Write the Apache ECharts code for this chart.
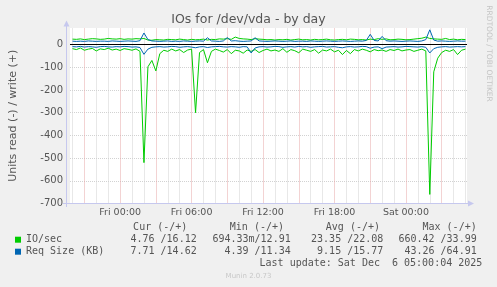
<!DOCTYPE html>
<html><head><meta charset="utf-8">
<script src="https://cdn.jsdelivr.net/npm/echarts@6/dist/echarts.min.js"></script>
<style>html,body{margin:0;padding:0;background:#f0f0f0}#c{width:497px;height:287px}</style>
</head><body><div id="c"></div>
<script>
// sample times: hours after Fri 00:00, one sample every 20 minutes
const startHour = -4;
const stepHour = 1 / 3;

// IO/sec (write = +, read = -)
const ioWrite = [24,23,25,22,24,26,25,23,24,27, 25,24,26,23,25,24,26,25,27,20,
  19,22,21,20,23,22,21,24,22,20, 23,21,22,24,20,23,22,25,24,26,
  23,33,27,25,24,22,26,24,23,21, 22,20,22,21,23,20,22,24,21,22,
  20,23,21,22,24,21,20,22,23,21, 24,23,21,22,20,24,22,26,23,25,
  21,22,24,23,21,22,24,26,28,33, 27,25,24,23,27,22,24,21,23,22];
const ioRead = [-18,-22,-15,-25,-20,-17,-28,-19,-22,-16, -24,-20,-26,-18,-21,-25,-19,-30,-520,-98,
  -70,-116,-40,-25,-30,-20,-28,-22,-35,-24, -20,-300,-35,-22,-80,-30,-20,-26,-33,-22,
  -40,-25,-28,-38,-24,-30,-22,-35,-26,-20, -28,-24,-30,-18,-34,-22,-27,-36,-20,-25,
  -30,-22,-38,-24,-28,-20,-32,-25,-44,-26, -40,-22,-28,-20,-25,-32,-22,-27,-24,-30,
  -22,-26,-20,-28,-24,-22,-30,-25,-20,-28, -660,-120,-60,-35,-25,-30,-22,-44,-25,-20];
// Req Size (KB)
const reqWrite = [15,14,15,14,16,15,14,15,15,14, 16,15,14,15,16,15,14,17,51,22,
  16,15,14,15,16,14,15,14,16,15, 14,15,16,15,30,16,15,14,16,31,
  16,17,15,14,15,16,30,16,15,14, 15,16,15,14,15,16,14,15,15,14,
  16,15,14,15,16,15,14,15,16,15, 14,15,16,15,18,45,18,16,36,17,
  15,16,15,14,15,16,15,14,16,22, 65,20,15,16,15,14,15,16,15,15];
const reqRead = [-9,-10,-8,-11,-9,-10,-12,-9,-8,-10, -11,-9,-10,-8,-9,-11,-10,-13,-43,-20,
  -12,-10,-9,-11,-10,-8,-9,-12,-10,-9, -11,-14,-10,-9,-13,-10,-9,-8,-10,-11,
  -9,-10,-12,-9,-10,-37,-15,-10,-9,-11, -10,-8,-9,-12,-10,-9,-11,-8,-10,-9,
  -12,-10,-9,-8,-11,-10,-9,-12,-14,-10, -9,-11,-10,-8,-9,-16,-11,-10,-18,-11,
  -10,-9,-11,-10,-8,-9,-10,-11,-9,-12, -37,-18,-12,-10,-9,-11,-10,-9,-10,-9];

const xTickHours = [0, 6, 12, 18, 24];
const xTickLabels = ['Fri 00:00', 'Fri 06:00', 'Fri 12:00', 'Fri 18:00', 'Sat 00:00'];
const legendNames = ['IO/sec', 'Req Size (KB)'];
const colHeaders = ['Cur (-/+)', 'Min (-/+)', 'Avg (-/+)', 'Max (-/+)'];
const ioStats = ['4.76 /16.12', '694.33m/12.91', '23.35 /22.08', '660.42 /33.99'];
const reqStats = ['7.71 /14.62', '4.39 /11.34', '9.15 /15.77', '43.26 /64.91'];
const lastUpdate = 'Last update: Sat Dec  6 05:00:04 2025';

const GREEN = '#00cc00', BLUE = '#0066b3';
const GRID_RED = '#e8a8a8', GRID_GREY = '#d2d2d2', AXIS = '#c6c8ee', TXT = '#555';
const hMin = -4.2083, hMax = 29.125;

const pairs = arr => arr.map((v, i) => [startHour + i * stepHour, v]);

const vLines = [];
for (let h = -4; h <= 29; h++) {
  vLines.push({ xAxis: h, lineStyle: { color: h % 3 === 0 ? GRID_RED : GRID_GREY, type: [1, 1], width: 1 } });
}

const chart = echarts.init(document.getElementById('c'), null, { renderer: 'canvas' });
const lineSeries = (name, data, color) => ({
  name, type: 'line', data: pairs(data), showSymbol: false, symbol: 'none',
  lineStyle: { color, width: 1 }, itemStyle: { color }, animation: false, silent: true, z: 3
});

const s0 = lineSeries('IO/sec', ioWrite, GREEN);
s0.markLine = { silent: true, symbol: ['none', 'none'], label: { show: false }, animation: false, z: 1, data: vLines };
const s3 = lineSeries('Req Size (KB)', reqRead, BLUE);
s3.markLine = { silent: true, symbol: ['none', 'none'], label: { show: false }, animation: false, z: 10,
  data: [{ yAxis: 0, lineStyle: { color: '#000', type: 'solid', width: 1.2 } }] };

const gTexts = [];
const hdrX = [187.3, 284, 380, 476.7];
const valX = [196.7, 290.7, 383.3, 476.7];
const mono = '10px "DejaVu Sans Mono"';
colHeaders.forEach((t, i) => gTexts.push({ type: 'text', x: hdrX[i], y: 227.3, style: { text: t, align: 'right', verticalAlign: 'middle', font: mono, fill: TXT } }));
ioStats.forEach((t, i) => gTexts.push({ type: 'text', x: valX[i], y: 239.7, style: { text: t, align: 'right', verticalAlign: 'middle', font: mono, fill: TXT } }));
reqStats.forEach((t, i) => gTexts.push({ type: 'text', x: valX[i], y: 251.7, style: { text: t, align: 'right', verticalAlign: 'middle', font: mono, fill: TXT } }));
gTexts.push({ type: 'text', x: 482.3, y: 263.3, style: { text: lastUpdate, align: 'right', verticalAlign: 'middle', font: mono, fill: TXT } });
gTexts.push({ type: 'text', x: 248.5, y: 276, style: { text: 'Munin 2.0.73', align: 'center', verticalAlign: 'middle', font: '7px "DejaVu Sans"', fill: '#c8c8c8' } });
gTexts.push({ type: 'text', x: 488.5, y: 53.5, rotation: -Math.PI / 2, style: { text: 'RRDTOOL / TOBI OETIKER', align: 'center', verticalAlign: 'middle', font: '7.5px "DejaVu Sans"', fill: '#c4c4c4' } });
// axis lines with arrows
gTexts.push({ type: 'line', z: 50, shape: { x1: 63, y1: 203.5, x2: 470, y2: 203.5 }, style: { stroke: AXIS, lineWidth: 1 } });
gTexts.push({ type: 'line', z: 50, shape: { x1: 66.5, y1: 207, x2: 66.5, y2: 24 }, style: { stroke: AXIS, lineWidth: 1 } });
gTexts.push({ type: 'polygon', z: 50, shape: { points: [[474, 203.5], [468, 200.5], [468, 206.5]] }, style: { fill: AXIS } });
gTexts.push({ type: 'polygon', z: 50, shape: { points: [[66.5, 20.5], [63.5, 26.5], [69.5, 26.5]] }, style: { fill: AXIS } });

chart.setOption({
  backgroundColor: '#f0f0f0',
  animation: false,
  title: { text: 'IOs for /dev/vda - by day', left: 'center', top: 13, padding: 0,
    textStyle: { fontFamily: 'DejaVu Sans', fontSize: 12.5, fontWeight: 'normal', color: TXT } },
  legend: { data: legendNames, orient: 'vertical', left: 15, top: 233.7, padding: 0, itemWidth: 6, itemHeight: 6, itemGap: 0,
    icon: 'rect', selectedMode: false,
    textStyle: { fontFamily: 'DejaVu Sans Mono', fontSize: 10, color: TXT, lineHeight: 12 } },
  grid: { left: 67, top: 28, width: 400, height: 175.5, show: true, backgroundColor: '#fff', borderWidth: 0 },
  xAxis: { type: 'value', min: hMin, max: hMax, axisLine: { show: false }, axisTick: { show: false }, splitLine: { show: false },
    axisLabel: { customValues: xTickHours, formatter: v => xTickLabels[xTickHours.indexOf(v)] || '',
      color: TXT, fontFamily: 'DejaVu Sans', fontSize: 9.5, margin: 4 } },
  yAxis: [
    { type: 'value', min: -700, max: 73, interval: 100, axisLine: { show: false }, axisTick: { show: false },
      axisLabel: { formatter: v => (v % 100 === 0 ? String(v) : ''), color: TXT, fontFamily: 'DejaVu Sans', fontSize: 10, margin: 7 },
      splitLine: { show: true, showMinLine: false, showMaxLine: false, lineStyle: { color: GRID_RED, type: [1, 1], width: 1 } },
      name: 'Units read (-) / write (+)', nameLocation: 'middle', nameRotate: 90, nameGap: 51,
      nameTextStyle: { fontFamily: 'DejaVu Sans', fontSize: 11, color: TXT } },
    { type: 'value', min: -700, max: 73, interval: 50, position: 'left', axisLine: { show: false }, axisTick: { show: false },
      axisLabel: { show: false },
      splitLine: { show: true, showMinLine: false, showMaxLine: false, lineStyle: { color: ['rgba(0,0,0,0)', GRID_GREY], type: [1, 1], width: 1 } } }
  ],
  graphic: gTexts,
  series: [
    s0,
    lineSeries('IO/sec', ioRead, GREEN),
    lineSeries('Req Size (KB)', reqWrite, BLUE),
    s3
  ]
});
</script></body></html>
